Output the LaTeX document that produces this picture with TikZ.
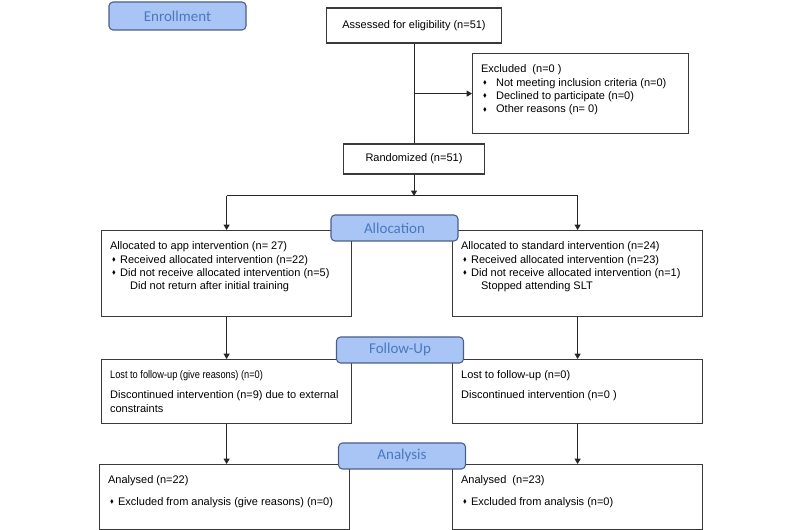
\documentclass[tikz,border=0pt]{standalone}
\usepackage{fontspec}
\setmainfont{Liberation Sans}
\newfontfamily\stagefont{Carlito}
\newfontfamily\narrowfont[FakeStretch=0.84]{Liberation Sans}
\usepackage{amssymb}
\usetikzlibrary{arrows.meta}
\definecolor{StageFill}{HTML}{A9C5F5}
\definecolor{StageLine}{HTML}{4A5F85}
\definecolor{StageText}{HTML}{4A78C0}
\definecolor{BoxLine}{HTML}{3A3A3A}
\newdimen\pxu \pxu=0.75pt
\newcommand{\diam}{\raisebox{1.4pt}{\scalebox{0.5}{$\blacklozenge$}}}
\newcommand{\bul}[1][7.5pt]{\makebox[#1][l]{\hspace*{1.5pt}\diam}}
\newcommand{\boxtext}[3]{\parbox[t][#2\pxu][t]{\dimexpr#1\pxu-12.8pt\relax}{\rule{0pt}{14.25pt}#3}}

\begin{document}
\begin{tikzpicture}[x=0.75pt, y=-0.75pt,
    stage/.style={draw=StageLine, fill=StageFill, rounded corners=3pt, line width=0.8pt, minimum width=95.25pt, minimum height=19.5pt, inner sep=0pt, font=\stagefont\fontsize{11.25}{13}\selectfont, text=StageText},
    txtbox/.style={draw=BoxLine, fill=white, line width=0.9pt, anchor=north west, inner xsep=6.4pt, inner ysep=0pt, font=\fontsize{8.25}{10.1}\selectfont},
    plainbox/.style={draw=BoxLine, fill=white, line width=0.9pt, inner sep=0pt, font=\fontsize{8.25}{10.1}\selectfont},
    conn/.style={draw=black!85, line width=0.75pt},
    arr/.style={conn, -{Triangle[width=4.5pt, length=4pt]}}]
    \useasboundingbox (0,0) rectangle (800,530);

    % Enrollment
    \node[stage, minimum width=102.75pt, minimum height=21pt] (enroll) at (177.5,16) {Enrollment};
    \node[plainbox, minimum width=131.25pt, minimum height=26.25pt] (assess) at (414,25.5) {Assessed for eligibility (n=51)};
    \node[txtbox] (excl) at (472,53) {\boxtext{216}{80}{Excluded\ \ (n=0 )\\
        \bul[11.25pt]Not meeting inclusion criteria (n=0)\\
        \bul[11.25pt]Declined to participate (n=0)\\
        \bul[11.25pt]Other reasons (n= 0)}};
    \node[plainbox, minimum width=105.75pt, minimum height=22.5pt] (rand) at (414,159) {Randomized (n=51)};

    % Allocation
    \node[txtbox] (allocL) at (101,230) {\boxtext{250}{86}{Allocated to app intervention (n= 27)\\
        \bul Received allocated intervention (n=22)\\
        \bul Did not receive allocated intervention (n=5)\\
        \hspace*{15pt}Did not return after initial training}};
    \node[txtbox] (allocR) at (452,230) {\boxtext{250}{86}{Allocated to standard intervention (n=24)\\
        \bul Received allocated intervention (n=23)\\
        \bul Did not receive allocated intervention (n=1)\\
        \hspace*{15pt}Stopped attending SLT}};

    % Follow-up
    \node[txtbox] (fupL) at (101,359) {\boxtext{250}{64}{{\narrowfont Lost to follow-up (give reasons) (n=0)}\\[4.9pt]
        Discontinued intervention (n=9) due to external\\
        constraints}};
    \node[txtbox] (fupR) at (452,359) {\boxtext{250}{64}{Lost to follow-up (n=0)\\[4.9pt]
        Discontinued intervention (n=0 )}};

    % Analysis
    \node[txtbox] (anaL) at (99,464) {\boxtext{250}{65}{Analysed (n=22)\\[6.4pt]
        \bul Excluded from analysis (give reasons) (n=0)}};
    \node[txtbox] (anaR) at (452,464) {\boxtext{250}{65}{Analysed\ \ (n=23)\\[6.4pt]
        \bul Excluded from analysis (n=0)}};

    % Connectors
    \coordinate (exjoin) at (assess.south |- excl.west);
    \coordinate (split) at (414,196);
    \draw[conn] (assess) -- (rand);
    \draw[arr] (exjoin) -- (excl.west);
    \draw[arr] (rand) -- (split);
    \draw[conn] (split -| allocL.north) -- (split -| allocR.north);
    \draw[arr] (split -| allocL.north) -- (allocL.north);
    \draw[arr] (split -| allocR.north) -- (allocR.north);
    \draw[arr] (allocL) -- (fupL);
    \draw[arr] (allocR) -- (fupR);
    \draw[arr] (fupL.south) -- (fupL.south |- anaL.north);
    \draw[arr] (fupR) -- (anaR);

    % Stage labels (drawn on top of the boxes)
    \node[stage] (labAlloc) at (394.5,228) {Allocation};
    \node[stage] (labFup) at (400,350) {Follow-Up};
    \node[stage] (labAna) at (402,456) {Analysis};
\end{tikzpicture}
\end{document}
